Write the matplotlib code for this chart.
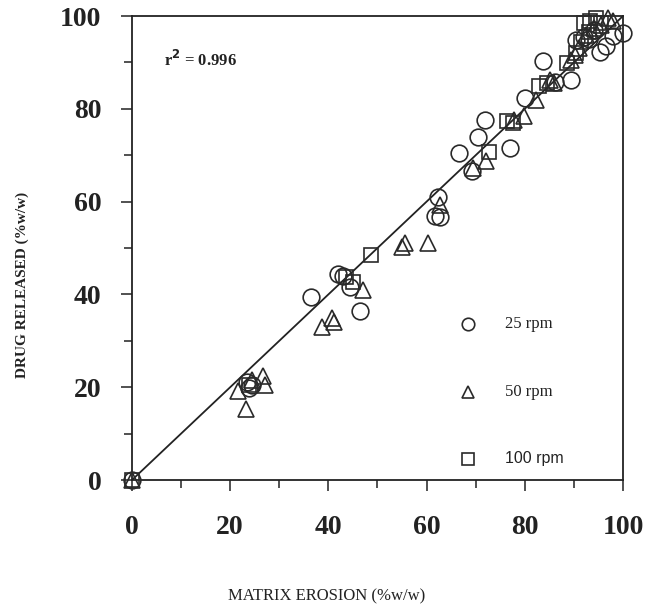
import matplotlib
matplotlib.use("Agg")
import matplotlib.pyplot as plt
from matplotlib.ticker import MultipleLocator

# 25 rpm (circles)
x25 = [0, 23.5, 24.5, 23.8, 36.5, 42.0, 43.0, 44.5, 46.5, 61.8, 62.8, 62.3,
       66.5, 69.3, 70.5, 71.8, 77.0, 80.0, 83.8, 86.2, 89.5, 90.5, 92.0, 93.0,
       95.3, 96.5, 98.0, 100.0, 94.0]
y25 = [0, 21.2, 20.5, 19.8, 39.5, 44.5, 44.0, 41.5, 36.5, 56.8, 56.6, 61.0,
       70.5, 66.5, 74.0, 77.6, 71.5, 82.3, 90.2, 85.8, 86.2, 94.8, 95.5, 95.0,
       92.3, 93.5, 95.6, 96.3, 97.0]

# 50 rpm (triangles)
x50 = [0, 21.5, 23.3, 24.5, 26.7, 27.0, 38.7, 40.7, 41.2, 47.0, 55.0, 55.6,
       60.2, 62.8, 69.5, 72.2, 77.8, 79.8, 82.3, 85.2, 86.0, 89.5, 90.3, 91.0,
       92.5, 94.0, 95.5, 97.0, 98.0]
y50 = [0, 19.2, 15.3, 21.5, 22.5, 20.5, 33.0, 35.0, 34.0, 41.0, 50.3, 51.0,
       51.0, 59.2, 67.2, 68.8, 77.5, 78.5, 81.8, 86.2, 85.6, 90.5, 91.5, 93.0,
       96.0, 97.5, 98.0, 99.5, 99.0]

# 100 rpm (squares)
x100 = [0, 23.8, 43.5, 45.0, 48.6, 72.8, 76.3, 77.5, 82.8, 84.5, 88.5, 91.5,
        92.0, 93.3, 94.6, 95.5, 93.0, 90.5]
y100 = [0, 20.4, 43.8, 42.6, 48.5, 70.6, 77.3, 77.0, 85.0, 85.5, 89.8, 94.5,
        98.5, 99.0, 99.5, 98.5, 96.5, 92.0]

fit_x = [0, 100]
fit_y = [0, 100]

serif = "Liberation Serif"

fig = plt.figure(figsize=(6.54, 6.09), dpi=100)
ax = fig.add_axes([0.2018, 0.2118, 0.7508, 0.7619])

ax.plot(fit_x, fit_y, color="#222222", lw=1.3, zorder=1)

mk = dict(linestyle="none", mfc="none", mec="#2a2a2a", mew=1.2, zorder=3,
          clip_on=False)
ax.plot(x25, y25, marker="o", ms=12, **mk)
ax.plot(x50, y50, marker="^", ms=12, **mk)
ax.plot(x100, y100, marker="s", ms=10, **mk)

# legend drawn as marks in data space
ax.plot([68.4], [33.6], marker="o", ms=9, **mk)
ax.plot([68.4], [19.0], marker="^", ms=9, **mk)
ax.plot([68.4], [4.6], marker="s", ms=8, **mk)
ax.text(76, 33.6, "25 rpm", fontsize=12, family=serif, va="center", color="#222222")
ax.text(76, 19.0, "50 rpm", fontsize=12, family=serif, va="center", color="#222222")
ax.text(76, 4.6, "100 rpm", fontsize=11.5, family="Liberation Sans", va="center", color="#222222")

ax.text(6.5, 90.5, r"r$^{\mathbf{2}}$ = 0.996", fontsize=12, family=serif,
        fontweight="bold", va="center", color="#222222")

ax.set_xlim(0, 100)
ax.set_ylim(0, 100)
ax.xaxis.set_major_locator(MultipleLocator(20))
ax.xaxis.set_minor_locator(MultipleLocator(10))
ax.yaxis.set_major_locator(MultipleLocator(20))
ax.yaxis.set_minor_locator(MultipleLocator(10))
ax.tick_params(which="both", direction="out", width=1.1, color="#222222")
ax.tick_params(which="major", length=8, pad=14)
ax.tick_params(axis="x", which="major", pad=17)
ax.tick_params(which="minor", length=6)
for lab in ax.get_xticklabels() + ax.get_yticklabels():
    lab.set_family(serif)
    lab.set_fontweight("bold")
    lab.set_fontsize(20)
    lab.set_color("#222222")
for s in ax.spines.values():
    s.set_linewidth(1.3)
    s.set_color("#222222")

fig.text(0.5, 0.02, "MATRIX EROSION (%w/w)", fontsize=12, family=serif,
         ha="center", va="center", color="#222222")
fig.text(0.034, 0.532, "DRUG RELEASED (%w/w)", fontsize=11, family=serif,
         fontweight="bold", rotation=90, ha="center", va="center", color="#222222")

fig.savefig("out.png", dpi=100)
